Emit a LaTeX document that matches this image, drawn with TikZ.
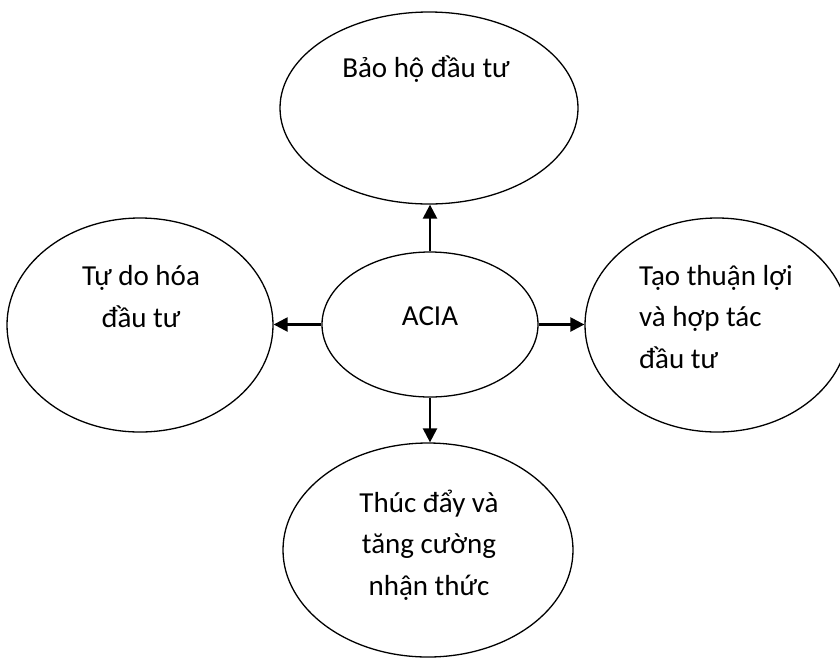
\documentclass[tikz,border=0pt]{standalone}
\usepackage{fontspec}
\setmainfont{Carlito}
\usetikzlibrary{shapes.geometric,arrows.meta}
\tikzset{
	bubble/.style = {draw, ellipse, line width=1.3pt, inner sep=0pt},
	arr/.style = {line width=2.4pt, -{Triangle[length=14pt,width=14pt]}},
	lbl/.style = {inner sep=0pt, font=\fontsize{29pt}{41.5pt}\selectfont}
}

\begin{document}
\begin{tikzpicture}[x=1pt, y=-1pt]
	\useasboundingbox (0,0) rectangle (840,657);
	% ellipses
	\node[bubble, minimum width=298pt, minimum height=192pt] (bao) at (429,108) {};
	\node[bubble, minimum width=266pt, minimum height=214pt] (tudo) at (140,325) {};
	\node[bubble, minimum width=264pt, minimum height=214pt] (taothuan) at (717,325) {};
	\node[bubble, minimum width=216pt, minimum height=145pt] (acia) at (430,324.5) {};
	\node[bubble, minimum width=290pt, minimum height=214pt] (thucday) at (428,550) {};
	% texts (base = last line)
	\node[lbl, anchor=base] (baotxt) at (426,77) {Bảo hộ đầu tư};
	\node[lbl, anchor=base, align=center] (tudotxt) at (141,327) {Tự do hóa\\đầu tư};
	\node[lbl, anchor=base west, align=left] (taotxt) at (639,368) {Tạo thuận lợi\\và hợp tác\\đầu tư};
	\node[lbl, anchor=base] (aciatxt) at (430,325) {ACIA};
	\node[lbl, anchor=base, align=center] (thuctxt) at (429,595) {Thúc đẩy và\\tăng cường\\nhận thức};
	% arrows
	\draw[arr] (acia.north) -- (acia.north |- bao.south);
	\draw[arr] (acia.south) -- (acia.south |- thucday.north);
	\draw[arr] (acia.west) -- (acia.west -| tudo.east);
	\draw[arr] (acia.east) -- (acia.east -| taothuan.west);
\end{tikzpicture}
\end{document}
